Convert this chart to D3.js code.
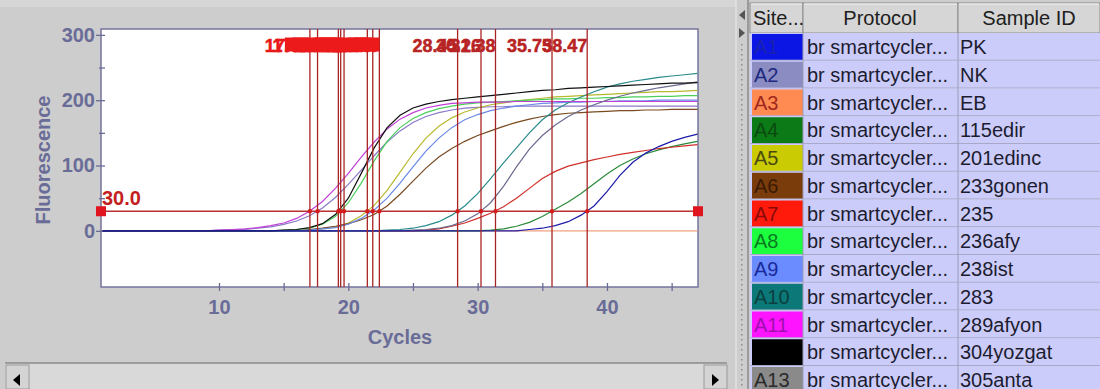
<!DOCTYPE html>
<html>
<head>
<meta charset="utf-8">
<script src="https://cdn.jsdelivr.net/npm/d3@7"></script>
<style>
  html, body { margin: 0; padding: 0; background: #cdcdcd; }
  svg { display: block; font-family: "Liberation Sans", Arial, sans-serif; }
</style>
</head>
<body>
<svg id="chart" width="1100" height="389"></svg>
<script>
// --- data ------------------------------------------------------------------
// one fluorescence value per cycle, cycle 1..47
const fluorA1 = [0,0,0,0,0,0,0,0,0,0, 0,0,0,0,0,0,0,0,0,0, 0,0,0,0,0,0,0,0,0,0, 0,0,0,2,4,8,14,24,38,60, 85,105,119,129,137,143,148];
const fluorA2 = [0,0,0,0,0,0,0,0,0,1, 2,2,4,6,10,15,23,35,51,71, 93,115,136,153,166,175,181,185,188,189, 190,190,191,191,191,191,191,191,191,191, 191,191,191,191,191,191,191];
const fluorA3 = [0,0,0,0,0,0,0,0,0,0, 0,0,0,0,0,0,0,0,0,0, 0,0,0,0,0,0,0,0,0,0, 0,0,0,0,0,0,0,0,0,0, 0,0,0,0,0,0,0];
const fluorA4 = [0,0,0,0,0,0,0,0,0,0, 0,0,0,0,0,0,0,0,0,0, 0,0,0,0,0,0,0,0,0,0, 1,3,7,13,22,33,44,57,72,87, 100,110,118,124,129,133,137];
const fluorA5 = [0,0,0,0,0,0,0,0,0,0, 0,0,0,0,0,0,1,3,6,12, 23,39,62,90,118,142,160,173,182,188, 193,196,199,201,203,205,206,207,208,209, 210,211,212,213,213,214,215];
const fluorA6 = [0,0,0,0,0,0,0,0,0,0, 0,0,0,0,0,0,2,4,7,11, 17,25,38,56,76,96,113,126,137,146, 153,160,166,171,175,178,180,181,182,183, 184,184,185,185,186,186,186];
const fluorA7 = [0,0,0,0,0,0,0,0,0,0, 0,0,0,0,0,0,0,0,0,0, 0,0,0,0,0,1,3,7,12,19, 27,37,50,65,80,91,99,104,109,113, 117,120,123,126,128,130,132];
const fluorA8 = [0,0,0,0,0,0,0,0,0,0, 0,0,0,0,1,2,4,10,22,43, 73,107,137,158,172,181,187,191,194,196, 197,198,199,200,201,202,202,203,203,204, 204,205,205,206,206,207,207];
const fluorA9 = [0,0,0,0,0,0,0,0,0,0, 0,0,0,0,0,0,1,3,5,10, 19,32,50,73,98,122,142,158,170,178, 184,188,191,193,195,196,197,197,198,198, 199,199,199,200,200,200,200];
const fluorA10 = [0,0,0,0,0,0,0,0,0,0, 0,0,0,0,0,0,0,0,0,0, 0,0,1,2,4,8,14,24,38,57, 80,104,127,150,170,185,196,205,213,220, 225,229,232,235,237,239,241];
const fluorA11 = [0,0,0,0,0,0,0,0,0,1, 2,3,5,8,12,19,30,45,65,88, 113,136,156,171,181,188,192,195,196,197, 197,197,198,198,198,198,198,198,198,198, 198,198,198,198,198,198,198];
const fluorA12 = [0,0,0,0,0,0,0,0,0,0, 0,0,0,0,1,2,5,11,25,50, 88,127,158,177,188,194,198,201,203,205, 207,209,211,213,215,216,218,219,220,221, 222,223,224,225,226,226,227];
const fluorA13 = [0,0,0,0,0,0,0,0,0,0, 0,0,0,0,0,0,0,0,0,0, 0,0,0,0,1,2,4,8,15,26, 43,68,98,125,146,162,175,185,193,200, 206,211,215,219,222,225,228];

const siteNames = ['A1', 'A2', 'A3', 'A4', 'A5', 'A6', 'A7', 'A8', 'A9', 'A10', 'A11', '', 'A13'];
const sampleIds = ['PK', 'NK', 'EB', '115edir', '201edinc', '233gonen', '235', '236afy', '238ist', '283', '289afyon', '304yozgat', '305anta'];
const protocolName = 'br smartcycler...';
const siteColors = ['#0b16e4', '#8a8cc2', '#ff8a52', '#0c7a16', '#cbcb04', '#7a3c0a', '#ff1a0c', '#1cff3e', '#6a8cff', '#0c7878', '#ff14ff', '#000000', '#8a8a8a'];
const siteTextColors = ['#1a22b0', '#1e2a80', '#a0281e', '#0a4a10', '#4a4a10', '#3a1a05', '#8a0a0a', '#0a7a20', '#1a2a9a', '#0a4040', '#a010b0', '#000000', '#2a2a2a'];
// traces look a little duller than the table swatches
const traceColors = ['#1c1ca8', '#8a7ac8', '#f0a080', '#2a8a3a', '#b8b830', '#7a4a20', '#d0302a', '#4ad05a', '#6a88e8', '#2a8a8a', '#c040d8', '#101010', '#6a6a90'];

const ctValues = [17.03, 17.62, 19.23, 19.41, 19.67, 21.47, 21.89, 22.40, 28.45, 30.26, 31.38, 35.75, 38.47];
const threshold = 30.0;

const yMajorTicks = [0, 100, 200, 300];
const yMinorTicks = [50, 150, 250];
const xMajorTicks = [10, 20, 30, 40];
const xMinorTicks = [15, 25, 35, 45];

const series = [fluorA1, fluorA2, fluorA3, fluorA4, fluorA5, fluorA6, fluorA7,
  fluorA8, fluorA9, fluorA10, fluorA11, fluorA12, fluorA13];
// paint order: flat control first, dark traces last
const drawOrder = [2, 1, 3, 4, 5, 6, 7, 8, 9, 10, 12, 11, 0];

// --- layout ------------------------------------------------------------------
const plot = {left: 101, right: 698, top: 29, bottom: 287};
const axisColor = '#6a6c98';
const ctRed = '#a82424';
const fmtCt = d3.format('.2f');

const svg = d3.select('#chart');

const x = d3.scaleLinear().domain([1, 47]).range([102.6, 697.5]);
const y = d3.scaleLinear().domain([-86, 309]).range([plot.bottom, plot.top]);

svg.append('rect')
  .attr('width', 1100)
  .attr('height', 389)
  .attr('fill', '#cdcdcd');
svg.append('rect')
  .attr('x', 0).attr('y', 0).attr('width', 736).attr('height', 7)
  .attr('fill', '#d6d6d6');

// plot area
svg.append('rect')
  .attr('x', plot.left)
  .attr('y', plot.top)
  .attr('width', plot.right - plot.left)
  .attr('height', plot.bottom - plot.top)
  .attr('fill', '#ffffff')
  .attr('stroke', '#74749c')
  .attr('stroke-width', 1.5);

svg.append('clipPath')
  .attr('id', 'plot-clip')
  .append('rect')
  .attr('x', plot.left)
  .attr('y', plot.top)
  .attr('width', plot.right - plot.left)
  .attr('height', plot.bottom - plot.top);

// y axis
const yAxisG = svg.append('g')
  .attr('transform', `translate(${plot.left},0)`)
  .call(d3.axisLeft(y).tickValues(yMajorTicks).tickSize(5).tickPadding(1));
yAxisG.select('.domain').remove();
yAxisG.selectAll('.tick line').attr('x1', 4).attr('x2', -5).attr('stroke', axisColor).attr('stroke-width', 1.3);
yAxisG.selectAll('.tick text')
  .attr('fill', axisColor)
  .attr('font-size', 20)
  .attr('font-weight', 'bold')
  .attr('font-family', '"Liberation Sans", Arial, sans-serif');

const yMinorG = svg.append('g')
  .attr('transform', `translate(${plot.left},0)`)
  .call(d3.axisLeft(y).tickValues(yMinorTicks).tickSize(2).tickFormat(''));
yMinorG.select('.domain').remove();
yMinorG.selectAll('.tick line').attr('x1', 4).attr('x2', -2).attr('stroke', axisColor).attr('stroke-width', 1.3);

// x axis
const xAxisG = svg.append('g')
  .attr('transform', `translate(0,${plot.bottom})`)
  .call(d3.axisBottom(x).tickValues(xMajorTicks).tickSize(4));
xAxisG.select('.domain').remove();
xAxisG.selectAll('.tick line').attr('y1', -4).attr('y2', 4).attr('stroke', axisColor).attr('stroke-width', 1.3);
xAxisG.selectAll('.tick text')
  .attr('y', 12.5)
  .attr('fill', axisColor)
  .attr('font-size', 20)
  .attr('font-weight', 'bold')
  .attr('font-family', '"Liberation Sans", Arial, sans-serif');

const xMinorG = svg.append('g')
  .attr('transform', `translate(0,${plot.bottom})`)
  .call(d3.axisBottom(x).tickValues(xMinorTicks).tickSize(4).tickFormat(''));
xMinorG.select('.domain').remove();
xMinorG.selectAll('.tick line').attr('y1', -4).attr('y2', 4).attr('stroke', axisColor).attr('stroke-width', 1.3);

svg.append('text')
  .attr('transform', 'translate(50,160) rotate(-90)')
  .attr('text-anchor', 'middle')
  .attr('fill', axisColor)
  .attr('font-size', 20)
  .attr('font-weight', 'bold')
  .text('Fluorescence');

svg.append('text')
  .attr('x', 400)
  .attr('y', 344)
  .attr('text-anchor', 'middle')
  .attr('fill', axisColor)
  .attr('font-size', 20)
  .attr('font-weight', 'bold')
  .text('Cycles');

// curves
const plotG = svg.append('g').attr('clip-path', 'url(#plot-clip)');
const line = d3.line()
  .x((d, i) => x(i + 1))
  .y((d) => y(d));

plotG.selectAll('.curve')
  .data(drawOrder)
  .join('path')
  .attr('class', 'curve')
  .attr('fill', 'none')
  .attr('stroke', (k) => traceColors[k])
  .attr('stroke-width', 1.2)
  .attr('d', (k) => line(series[k]));

// threshold
plotG.append('line')
  .attr('x1', plot.left)
  .attr('x2', plot.right)
  .attr('y1', y(threshold))
  .attr('y2', y(threshold))
  .attr('stroke', '#b83030')
  .attr('stroke-width', 1.6);

// Ct markers
plotG.selectAll('.ct-line')
  .data(ctValues)
  .join('line')
  .attr('class', 'ct-line')
  .attr('x1', (d) => x(d))
  .attr('x2', (d) => x(d))
  .attr('y1', plot.top)
  .attr('y2', plot.bottom)
  .attr('stroke', ctRed)
  .attr('stroke-width', 1.3);

plotG.selectAll('.ct-dot')
  .data(ctValues)
  .join('circle')
  .attr('class', 'ct-dot')
  .attr('cx', (d) => x(d))
  .attr('cy', y(threshold))
  .attr('r', 2.2)
  .attr('fill', '#d41c1c');

// a Ct line with another one closer than crowdGap px gets its label
// painted over as a solid flag (that is how the crowded ones read)
const crowdGap = 10;
const isCrowded = (d) => ctValues.some((e) => e !== d && Math.abs(x(e) - x(d)) < crowdGap);

svg.selectAll('.ct-label')
  .data(ctValues)
  .join('text')
  .attr('class', 'ct-label')
  .attr('x', (d) => x(d))
  .attr('y', 51.5)
  .attr('text-anchor', 'end')
  .attr('font-size', 18)
  .attr('font-weight', 'bold')
  .attr('fill', (d) => isCrowded(d) ? '#e81818' : '#b82424')
  .attr('stroke', (d) => isCrowded(d) ? '#e81818' : '#b82424')
  .attr('stroke-width', 0.5)
  .text((d) => fmtCt(d));

const probe = svg.append('text').attr('font-size', 18).attr('font-weight', 'bold');
const fracWidth = (d) => {
  const s = fmtCt(d);
  probe.text(s.slice(s.indexOf('.')));
  return probe.node().getComputedTextLength();
};
const crowdedCts = ctValues.filter(isCrowded);
const flagWidths = crowdedCts.map(fracWidth);
probe.remove();

svg.selectAll('.ct-flag')
  .data(crowdedCts)
  .join('rect')
  .attr('class', 'ct-flag')
  .attr('x', (d, i) => x(d) - flagWidths[i])
  .attr('y', 37.5)
  .attr('width', (d, i) => flagWidths[i])
  .attr('height', 14)
  .attr('fill', '#ec1a1a');

// threshold handles + value
svg.selectAll('.thr-handle')
  .data([plot.left, plot.right])
  .join('rect')
  .attr('class', 'thr-handle')
  .attr('x', (d) => d - 5)
  .attr('y', y(threshold) - 5)
  .attr('width', 10)
  .attr('height', 10)
  .attr('fill', '#e0141e');

svg.append('text')
  .attr('x', plot.left + 1)
  .attr('y', y(threshold) - 6)
  .attr('font-size', 20)
  .attr('font-weight', 'bold')
  .attr('fill', '#c41e1e')
  .text(d3.format('.1f')(threshold));

// scroll bar under the chart
svg.append('rect')
  .attr('x', 5).attr('y', 363).attr('width', 722).attr('height', 26)
  .attr('fill', '#d9d9d9');
svg.append('line')
  .attr('x1', 5).attr('x2', 727).attr('y1', 363).attr('y2', 363)
  .attr('stroke', '#8a8a8a').attr('stroke-width', 1.5);
svg.selectAll('.scroll-btn')
  .data([6, 704])
  .join('rect')
  .attr('class', 'scroll-btn')
  .attr('x', (d) => d)
  .attr('y', 365)
  .attr('width', 23)
  .attr('height', 24)
  .attr('fill', '#d4d4d4')
  .attr('stroke', '#9a9a9a');
svg.append('path').attr('d', 'M13,380 L20,374 L20,386 Z').attr('fill', '#000');
svg.append('path').attr('d', 'M719,380 L712,374 L712,386 Z').attr('fill', '#000');

// splitter
svg.append('line')
  .attr('x1', 736).attr('x2', 736).attr('y1', 0).attr('y2', 389)
  .attr('stroke', '#e2e2e2').attr('stroke-width', 1.5);
svg.selectAll('.split-dot')
  .data(d3.range(44, 389, 5))
  .join('rect')
  .attr('class', 'split-dot')
  .attr('x', 741)
  .attr('y', (d) => d)
  .attr('width', 1.5)
  .attr('height', 1.5)
  .attr('fill', '#8c8c8c');
svg.append('path').attr('d', 'M739,15 L745,10 L745,20 Z').attr('fill', '#555');
svg.append('path').attr('d', 'M745,33 L739,28 L739,38 Z').attr('fill', '#555');

// --- sample table ---------------------------------------------------------
const cols = [
  {name: 'Site...', x0: 750, x1: 803, anchor: 'start', tx: 753},
  {name: 'Protocol', x0: 803, x1: 958, anchor: 'middle', tx: 880},
  {name: 'Sample ID', x0: 958, x1: 1100, anchor: 'middle', tx: 1029},
];
const headTop = 3;
const headBottom = 33;
const rowH = 27.75;

svg.append('line')
  .attr('x1', 748).attr('x2', 748).attr('y1', 0).attr('y2', 389)
  .attr('stroke', '#8a8a8a').attr('stroke-width', 1.5);

const head = svg.append('g');
head.selectAll('rect')
  .data(cols)
  .join('rect')
  .attr('x', (d) => d.x0)
  .attr('y', headTop)
  .attr('width', (d) => d.x1 - d.x0)
  .attr('height', headBottom - headTop)
  .attr('fill', '#d6d6d6')
  .attr('stroke', '#8c8c8c')
  .attr('stroke-width', 1);
head.selectAll('line')
  .data(cols)
  .join('line')
  .attr('x1', (d) => d.x0 + 1)
  .attr('x2', (d) => d.x1 - 1)
  .attr('y1', headTop + 1)
  .attr('y2', headTop + 1)
  .attr('stroke', '#f4f4f4');
head.selectAll('text')
  .data(cols)
  .join('text')
  .attr('x', (d) => d.tx)
  .attr('y', 25)
  .attr('text-anchor', (d) => d.anchor)
  .attr('font-size', 20)
  .attr('fill', '#202020')
  .text((d) => d.name);

const rows = svg.append('g')
  .selectAll('g')
  .data(sampleIds)
  .join('g')
  .attr('transform', (d, i) => `translate(0,${headBottom + i * rowH})`);

rows.append('rect')
  .attr('x', 750)
  .attr('y', 0)
  .attr('width', 350)
  .attr('height', rowH)
  .attr('fill', '#ccccfa');
rows.append('line')
  .attr('x1', 750).attr('x2', 1100)
  .attr('y1', rowH - 0.5).attr('y2', rowH - 0.5)
  .attr('stroke', '#a8a8c8');
rows.append('rect')
  .attr('x', 752)
  .attr('y', 1)
  .attr('width', 51)
  .attr('height', rowH - 2)
  .attr('fill', (d, i) => siteColors[i]);
rows.selectAll('.col-sep')
  .data([803, 958])
  .join('line')
  .attr('class', 'col-sep')
  .attr('x1', (d) => d).attr('x2', (d) => d)
  .attr('y1', 0).attr('y2', rowH)
  .attr('stroke', '#9c9cb4');
rows.append('text')
  .attr('x', 754)
  .attr('y', 21)
  .attr('font-size', 20)
  .attr('fill', (d, i) => siteTextColors[i])
  .text((d, i) => siteNames[i]);
rows.append('text')
  .attr('x', 807)
  .attr('y', 21)
  .attr('font-size', 20)
  .attr('fill', '#1c1c30')
  .text(protocolName);
rows.append('text')
  .attr('x', 960)
  .attr('y', 21)
  .attr('font-size', 20)
  .attr('fill', '#1c1c30')
  .text((d) => d);
</script>
</body>
</html>
